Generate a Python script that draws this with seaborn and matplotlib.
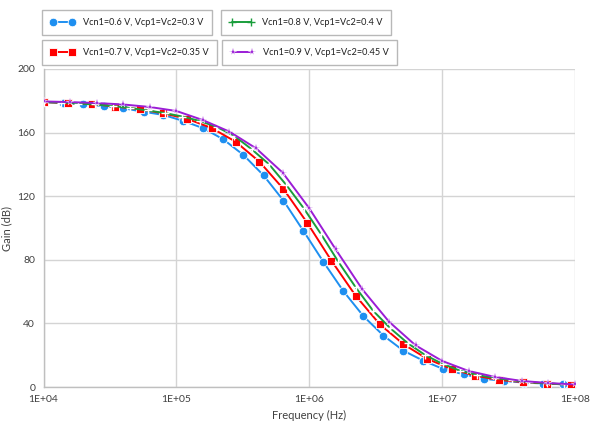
import numpy as np
import pandas as pd
import matplotlib
matplotlib.use("Agg")
import matplotlib.pyplot as plt
from matplotlib.lines import Line2D
import seaborn as sns

# ---------------- data ----------------
freq_06 = [1.00e4, 1.41e4, 2.00e4, 2.83e4, 4.00e4, 5.66e4, 8.00e4, 1.13e5, 1.60e5,
           2.26e5, 3.20e5, 4.53e5, 6.40e5, 9.05e5, 1.28e6, 1.81e6, 2.56e6, 3.62e6,
           5.12e6, 7.24e6, 1.02e7, 1.45e7, 2.05e7, 2.90e7, 4.10e7, 5.79e7, 8.19e7]
gain_06 = [179.2, 178.6, 177.8, 176.7, 175.3, 173.1, 171.1, 167.3, 162.7,
           155.7, 145.9, 133.1, 117.2, 98.1, 78.6, 60.2, 44.5, 32.3,
           22.8, 16.5, 11.3, 8.0, 5.2, 3.8, 2.8, 2.2, 1.7]

freq_07 = [1.00e4, 1.52e4, 2.30e4, 3.48e4, 5.28e4, 8.00e4, 1.21e5, 1.84e5, 2.79e5,
           4.22e5, 6.40e5, 9.70e5, 1.47e6, 2.23e6, 3.38e6, 5.12e6, 7.76e6, 1.18e7,
           1.78e7, 2.70e7, 4.09e7, 6.20e7, 9.40e7]
gain_07 = [179.2, 178.6, 178.0, 176.4, 174.7, 172.1, 168.6, 162.9, 154.3,
           141.7, 124.5, 103.0, 79.4, 57.5, 39.6, 26.9, 17.6, 11.3,
           7.1, 4.4, 3.1, 2.2, 1.4]

freq_08 = [1.00e4, 1.35e4, 1.82e4, 2.46e4, 3.33e4, 4.50e4, 6.07e4, 8.20e4, 1.11e5,
           1.50e5, 2.02e5, 2.73e5, 3.69e5, 4.98e5, 6.73e5, 9.09e5, 1.23e6, 1.66e6,
           2.24e6, 3.02e6, 4.08e6, 5.52e6, 7.45e6, 1.01e7, 1.36e7, 1.84e7, 2.48e7,
           3.35e7, 4.52e7, 6.11e7, 8.25e7]
gain_08 = [179.2, 178.9, 178.3, 177.7, 176.7, 175.5, 173.9, 172.3, 170.1,
           167.3, 163.5, 157.9, 149.5, 140.1, 127.0, 112.4, 96.0, 78.6,
           62.6, 48.0, 36.9, 27.5, 20.1, 14.5, 10.3, 7.5, 5.7,
           4.2, 3.0, 2.3, 1.7]

freq_09 = [1.00e4, 1.58e4, 2.51e4, 3.98e4, 6.31e4, 1.00e5, 1.58e5, 2.51e5, 3.98e5,
           6.31e5, 1.00e6, 1.58e6, 2.51e6, 3.98e6, 6.31e6, 1.00e7, 1.58e7, 2.51e7,
           3.98e7, 6.31e7, 1.00e8]
gain_09 = [179.6, 179.2, 178.6, 177.7, 176.1, 173.6, 167.9, 160.6, 150.1,
           134.8, 112.4, 86.6, 61.4, 41.1, 26.2, 16.4, 10.1, 6.3,
           3.8, 2.5, 1.6]

labels = ["Vcn1=0.6 V, Vcp1=Vc2=0.3 V",
          "Vcn1=0.7 V, Vcp1=Vc2=0.35 V",
          "Vcn1=0.8 V, Vcp1=Vc2=0.4 V",
          "Vcn1=0.9 V, Vcp1=Vc2=0.45 V"]
x_ticks = [1e4, 1e5, 1e6, 1e7, 1e8]
x_tick_labels = ["1E+04", "1E+05", "1E+06", "1E+07", "1E+08"]
y_ticks = [0, 40, 80, 120, 160, 200]

# ---------------- style ----------------
sns.set_style("white")
plt.rcParams["font.family"] = ["Lato", "DejaVu Sans"]

W, H = 590, 423
fig = plt.figure(figsize=(W / 100, H / 100), dpi=100)
L, R, T, B = 43.5, 575, 69, 387
ax = fig.add_axes([L / W, 1 - B / H, (R - L) / W, (B - T) / H])

colors = ["#1E8FF0", "#FF0000", "#1A9E3C", "#9B1DD6"]
series = [(freq_06, gain_06), (freq_07, gain_07), (freq_08, gain_08), (freq_09, gain_09)]
mstyle = [dict(marker="o", markersize=6.2, markeredgecolor="white", markeredgewidth=0.6),
          dict(marker="s", markersize=5.8, markeredgecolor="white", markeredgewidth=0.6),
          dict(marker="+", markersize=6.0, markeredgewidth=1.0),
          dict(marker="*", markersize=5.5, markeredgecolor="white", markeredgewidth=0.3)]

for (f, g), c, ms in zip(series, colors, mstyle):
    df = pd.DataFrame({"Frequency": f, "Gain": g})
    sns.lineplot(data=df, x="Frequency", y="Gain", ax=ax, color=c, linewidth=1.4,
                 sort=False, estimator=None, legend=False, zorder=3, **ms)

ax.set_xscale("log")
ax.set_xlim(1e4, 1e8)
ax.set_ylim(0, 200)
ax.set_xticks(x_ticks)
ax.set_xticklabels(x_tick_labels)
ax.xaxis.set_minor_locator(matplotlib.ticker.NullLocator())
ax.set_yticks(y_ticks)
ax.set_yticks(np.arange(20, 200, 40), minor=True)
ax.grid(True, which="major", color="#D4D4D4", linewidth=1.0)
ax.tick_params(axis="both", which="major", length=0, labelsize=7.5, colors="#404040", pad=6)
ax.tick_params(axis="y", which="minor", length=3, color="#BFBFBF", width=0.8, direction="out")
for s in ["top", "right"]:
    ax.spines[s].set_visible(False)
for s in ["left", "bottom"]:
    ax.spines[s].set_color("#BFBFBF")
    ax.spines[s].set_linewidth(1.0)
ax.set_xlabel("Frequency (Hz)", fontsize=8, color="#404040", labelpad=4)
ax.set_ylabel("Gain (dB)", fontsize=8, color="#404040")
ax.yaxis.set_label_coords((12 - L) / (R - L), 0.5)

# ---------------- legend boxes ----------------
boxes = [(42, 10), (42, 40), (221, 10), (222, 40)]
for (x0, y0), c, lab, ms in zip(boxes, colors, labels, mstyle):
    h = Line2D([0], [0], color=c, linewidth=1.4, **ms)
    leg = fig.legend(handles=[h], labels=[lab], loc="upper left",
                     bbox_to_anchor=(x0 / W, 1 - y0 / H), bbox_transform=fig.transFigure,
                     borderaxespad=0, frameon=True, fancybox=False, fontsize=6.6,
                     numpoints=2, handlelength=2.7, handletextpad=0.9,
                     borderpad=0.9, labelcolor="#202020")
    leg.get_frame().set_edgecolor("#A6A6A6")
    leg.get_frame().set_linewidth(1.0)

fig.savefig("out.png", dpi=100)
